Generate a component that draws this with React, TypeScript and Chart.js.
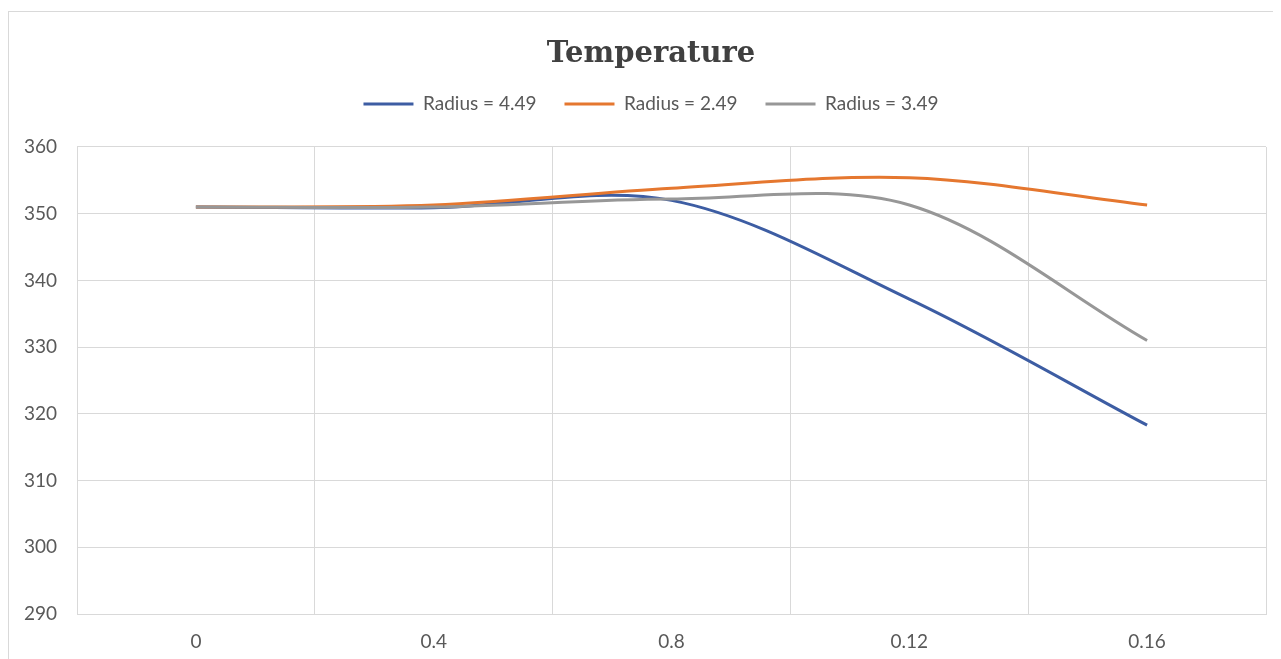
import React, { useEffect, useRef } from "react";
import { Chart, registerables } from "chart.js";

Chart.register(...registerables);

// ---- data ----
const categories = ["0", "0.4", "0.8", "0.12", "0.16"];
const radius449 = [351, 350.9, 352.0, 337.2, 318.3];
const radius249 = [351, 351.3, 353.8, 355.4, 351.3];
const radius349 = [351, 351.0, 352.2, 351.3, 331.0];
const seriesNames = ["Radius = 4.49", "Radius = 2.49", "Radius = 3.49"];
const seriesColors = ["#3D5DA3", "#E5772F", "#979797"];
const yMin = 290;
const yMax = 360;
const yStep = 10;
const chartTitle = "Temperature";

const centerShiftPlugin = {
  id: "centerShift",
  afterLayout(chart: any) {
    const shift = 8.5;
    [chart.titleBlock, chart.legend].forEach((b: any) => {
      if (b) {
        b.left += shift;
        b.right += shift;
      }
    });
  },
};

export default function App() {
  const canvasRef = useRef<HTMLCanvasElement | null>(null);

  useEffect(() => {
    if (!canvasRef.current) return;
    document.body.style.marginBottom = "0px";
    const tickFont = { family: "Lato", size: 19, lineHeight: 1.2 };
    const seriesData = [radius449, radius249, radius349];
    const chart = new Chart(canvasRef.current, {
      type: "line",
      data: {
        labels: categories,
        datasets: seriesNames.map((name, i) => ({
          label: name,
          data: seriesData[i],
          borderColor: seriesColors[i],
          backgroundColor: seriesColors[i],
          borderWidth: 3,
          pointRadius: 0,
          pointHoverRadius: 0,
          tension: 0.33,
          fill: false,
          order: 3 - i,
        })),
      },
      plugins: [centerShiftPlugin],
      options: {
        animation: false,
        responsive: true,
        maintainAspectRatio: false,
        layout: { padding: { left: 10, right: 7, top: 0, bottom: 0 } },
        plugins: {
          title: {
            display: true,
            text: chartTitle,
            color: "#404040",
            font: { family: "DejaVu Serif", size: 29, weight: "bold", lineHeight: 0.834 },
            padding: { top: 30.3, bottom: 0 },
          },
          subtitle: {
            display: true,
            text: "",
            weight: 500,
            position: "top",
            font: { size: 1, lineHeight: 1 },
            padding: { top: 0, bottom: 22.5 },
          },
          legend: {
            display: true,
            position: "top",
            labels: {
              boxWidth: 50,
              boxHeight: 3,
              padding: 28,
              color: "#595959",
              font: { family: "Lato", size: 19 },
              sort: (a: any, b: any) => a.datasetIndex - b.datasetIndex,
              generateLabels: (c: any) =>
                Chart.defaults.plugins.legend.labels
                  .generateLabels(c)
                  .map((l: any) => ({ ...l, lineWidth: 0 })),
            },
          },
          tooltip: { enabled: false },
        },
        scales: {
          x: {
            type: "category",
            offset: true,
            grid: { offset: true, color: "#d9d9d9", drawTicks: false, lineWidth: 1 },
            border: { display: true, color: "#d9d9d9" },
            ticks: { padding: 16, color: "#595959", font: tickFont, maxRotation: 0, autoSkip: false },
            afterFit: (s: any) => {
              s.height = 45;
            },
          },
          y: {
            min: yMin,
            max: yMax,
            grid: { color: "#d9d9d9", drawTicks: false, lineWidth: 1 },
            border: { display: true, color: "#d9d9d9" },
            ticks: { stepSize: yStep, padding: 20, color: "#595959", font: tickFont },
            afterFit: (s: any) => {
              s.width = 58;
            },
          },
        },
      },
    } as any);
    return () => chart.destroy();
  }, []);

  return (
    <div
      style={{
        position: "relative",
        marginTop: 3,
        height: 647,
        borderTop: "1px solid #d9d9d9",
        borderLeft: "1px solid #d9d9d9",
      }}
    >
      <canvas ref={canvasRef} />
    </div>
  );
}
